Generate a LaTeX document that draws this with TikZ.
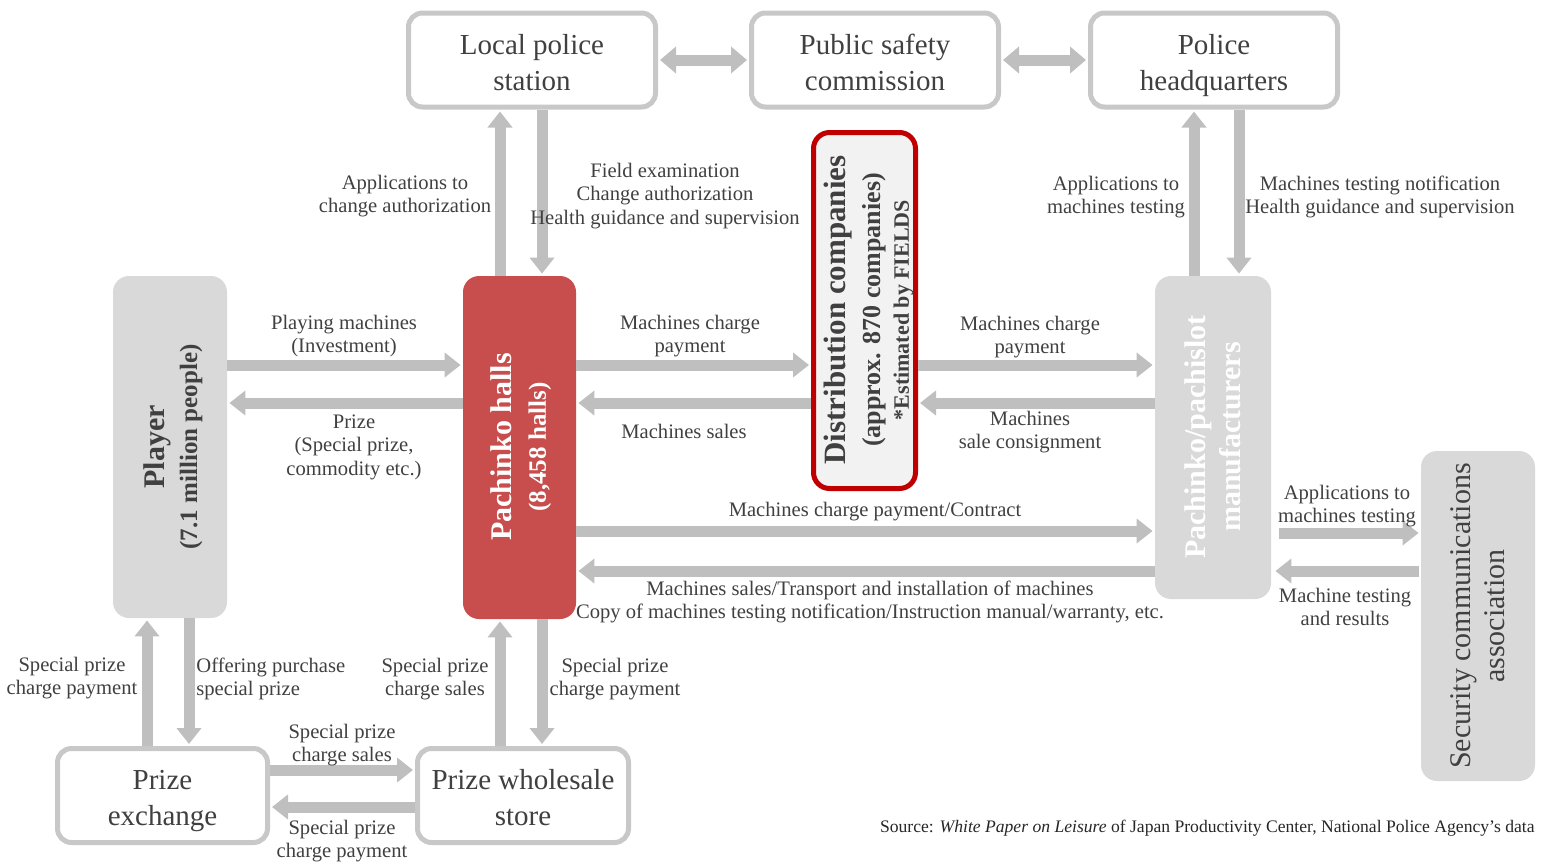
\documentclass[tikz,border=0pt]{standalone}
\usepackage{fontspec}
\setmainfont{Liberation Serif}
\usepackage{graphicx}
\usetikzlibrary{arrows.meta, positioning}
\definecolor{boxgray}{RGB}{200,200,200}
\definecolor{arrowgray}{RGB}{191,191,191}
\definecolor{fillgray}{RGB}{217,217,217}
\definecolor{textgray}{RGB}{64,64,64}
\definecolor{hallred}{RGB}{200,77,77}
\definecolor{accentred}{RGB}{192,0,0}
\definecolor{distfill}{RGB}{242,242,242}

\tikzset{
  office/.style={draw=boxgray, line width=2.5pt, rounded corners=7pt, fill=white, text=textgray,
    align=center, minimum width=123.5pt, minimum height=47pt, text height=30pt, text depth=0pt,
    font=\fontsize{14.5}{18}\selectfont},
  actor/.style={fill=fillgray, rounded corners=8pt, inner sep=0pt},
  vtext/.style={rotate=90, align=center, inner sep=0pt},
  flow/.style={draw=arrowgray, line width=5.5pt, -{Triangle[width=12pt,length=8pt]}, shorten >=1pt},
  twoway/.style={flow, {Triangle[width=13pt,length=8pt]}-{Triangle[width=13pt,length=8pt]}, shorten <=1pt},
  lbl/.style={text=textgray, align=center, font=\fontsize{10.3}{11.8}\selectfont, inner sep=0pt, yshift=-1pt},
}

\begin{document}
\begin{tikzpicture}[x=0.5pt, y=-0.5pt]
    \useasboundingbox (0,0) rectangle (1543,864);

    % Authorities
    \node[office] (police) at (532,60) {Local police\\station};
    \node[office] (commission) at (875,60) {Public safety\\commission};
    \node[office] (hq) at (1214,60) {Police\\headquarters};

    % Main actors
    \node[actor, minimum width=57pt, minimum height=171pt] (player) at (170,447) {};
    \node[vtext, text=textgray, font=\fontsize{12.5}{16.5}\selectfont\bfseries] (player-t) at (173,447)
        {{\fontsize{15}{16.5}\selectfont Player}\\(7.1 million people)};
    \node[actor, fill=hallred, minimum width=56.5pt, minimum height=171.5pt] (hall) at (519.5,447.5) {};
    \node[vtext, text=white, font=\fontsize{12.5}{17}\selectfont\bfseries] (hall-t) at (521,447)
        {{\fontsize{15}{17}\selectfont Pachinko halls}\\(8,458 halls)};
    \node[draw=accentred, line width=2.5pt, fill=distfill, rounded corners=8pt,
        minimum width=51pt, minimum height=178pt] (distrib) at (864.5,310.5) {};
    \node[vtext, text=textgray, font=\fontsize{13}{17.5}\selectfont\bfseries] (distrib-t) at (869,310)
        {{\fontsize{15.5}{17.5}\selectfont Distribution companies}\\(approx. 870 companies)\\[-3.5pt]
         {\fontsize{11}{13}\selectfont *Estimated by FIELDS}};
    \node[actor, minimum width=58pt, minimum height=161.5pt] (maker) at (1213,437.5) {};
    \node[vtext, text=white, font=\fontsize{15}{17.5}\selectfont\bfseries] (maker-t) at (1213,437)
        {Pachinko/pachislot\\manufacturers};
    \node[actor, minimum width=57pt, minimum height=165pt] (secu) at (1478,616) {};
    \node[vtext, text=textgray, font=\fontsize{15}{17}\selectfont] (secu-t) at (1478,616)
        {Security communications\\association};

    % Prize side
    \node[office, minimum width=105pt] (exchange) at (162.5,795.5) {Prize\\exchange};
    \node[office, minimum width=105.5pt] (wholesale) at (523,795.5) {Prize wholesale\\store};

    % Rows and columns of the arrows
    \coordinate (rowin) at (0,365);
    \coordinate (rowout) at (0,403);
    \coordinate (rowdir) at (0,531);
    \coordinate (rowback) at (0,571);
    \coordinate (rowtest) at (0,533);
    \coordinate (rowlow1) at (0,770);
    \coordinate (rowlow2) at (0,807);
    \coordinate (colhup) at (500,0);
    \coordinate (colhdn) at (542,0);
    \coordinate (colqup) at (1194,0);
    \coordinate (colqdn) at (1239,0);
    \coordinate (colpup) at (147,0);
    \coordinate (colpdn) at (189,0);

    % Arrows
    \draw[twoway] (police.east) -- (commission.west);
    \draw[twoway] (commission.east) -- (hq.west);
    \draw[flow] (colhup |- hall.north) -- (colhup |- police.south);
    \draw[flow] (colhdn |- police.south) -- (colhdn |- hall.north);
    \draw[flow] (colqup |- maker.north) -- (colqup |- hq.south);
    \draw[flow] (colqdn |- hq.south) -- (colqdn |- maker.north);
    \draw[flow] (player.east |- rowin) -- (hall.west |- rowin);
    \draw[flow] (hall.west |- rowout) -- (player.east |- rowout);
    \draw[flow] (hall.east |- rowin) -- (distrib.west |- rowin);
    \draw[flow] (distrib.west |- rowout) -- (hall.east |- rowout);
    \draw[flow] (distrib.east |- rowin) -- (maker.west |- rowin);
    \draw[flow] (maker.west |- rowout) -- (distrib.east |- rowout);
    \draw[flow] (hall.east |- rowdir) -- (maker.west |- rowdir);
    \draw[flow] (maker.west |- rowback) -- (hall.east |- rowback);
    \draw[flow, shorten <=4pt] (maker.east |- rowtest) -- (secu.west |- rowtest);
    \draw[flow, shorten <=1pt, shorten >=2pt] (secu.west |- rowback) -- (maker.east |- rowback);
    \draw[flow] (colpup |- exchange.north) -- (colpup |- player.south);
    \draw[flow] (colpdn |- player.south) -- (colpdn |- exchange.north);
    \draw[flow] (colhup |- wholesale.north) -- (colhup |- hall.south);
    \draw[flow] (colhdn |- hall.south) -- (colhdn |- wholesale.north);
    \draw[flow] (exchange.east |- rowlow1) -- (wholesale.west |- rowlow1);
    \draw[flow] (wholesale.west |- rowlow2) -- (exchange.east |- rowlow2);

    % Labels
    \node[lbl] (l-appchange) at (405,194) {Applications to\\change authorization};
    \node[lbl] (l-field) at (665,194) {Field examination\\Change authorization\\Health guidance and supervision};
    \node[lbl] (l-apptest) at (1116,195) {Applications to\\machines testing};
    \node[lbl] (l-notify) at (1380,195) {Machines testing notification\\Health guidance and supervision};
    \node[lbl] (l-playing) at (344,334) {Playing machines\\(Investment)};
    \node[lbl] (l-prize) at (354,445) {Prize\\(Special prize,\\commodity etc.)};
    \node[lbl] (l-charge1) at (690,334) {Machines charge\\payment};
    \node[lbl] (l-sales) at (684,429) {Machines sales};
    \node[lbl] (l-charge2) at (1030,335) {Machines charge\\payment};
    \node[lbl] (l-consign) at (1030,430) {Machines\\sale consignment};
    \node[lbl] (l-contract) at (875,510) {Machines charge payment/Contract};
    \node[lbl] (l-transport) at (870,600) {Machines sales/Transport and installation of machines\\Copy of machines testing notification/Instruction manual/warranty, etc.};
    \node[lbl] (l-apptest2) at (1347,504) {Applications to\\machines testing};
    \node[lbl] (l-results) at (1345,605) {Machine testing\\and results};
    \node[lbl] (l-spcp1) at (72,676) {Special prize\\charge payment};
    \node[lbl, align=left, anchor=west] (l-offer) at (196,677) {Offering purchase\\special prize};
    \node[lbl] (l-spcs1) at (435,677) {Special prize\\charge sales};
    \node[lbl] (l-spcp2) at (615,677) {Special prize\\charge payment};
    \node[lbl] (l-spcs2) at (342,743) {Special prize\\charge sales};
    \node[lbl] (l-spcp3) at (342,839) {Special prize\\charge payment};

    % Source
    \node[anchor=east, inner sep=0pt, text=black!85, font=\fontsize{8.8}{11}\selectfont] (source) at (1535,828)
        {Source: \textit{White Paper on Leisure} of Japan Productivity Center, National Police Agency's data};
\end{tikzpicture}
\end{document}
